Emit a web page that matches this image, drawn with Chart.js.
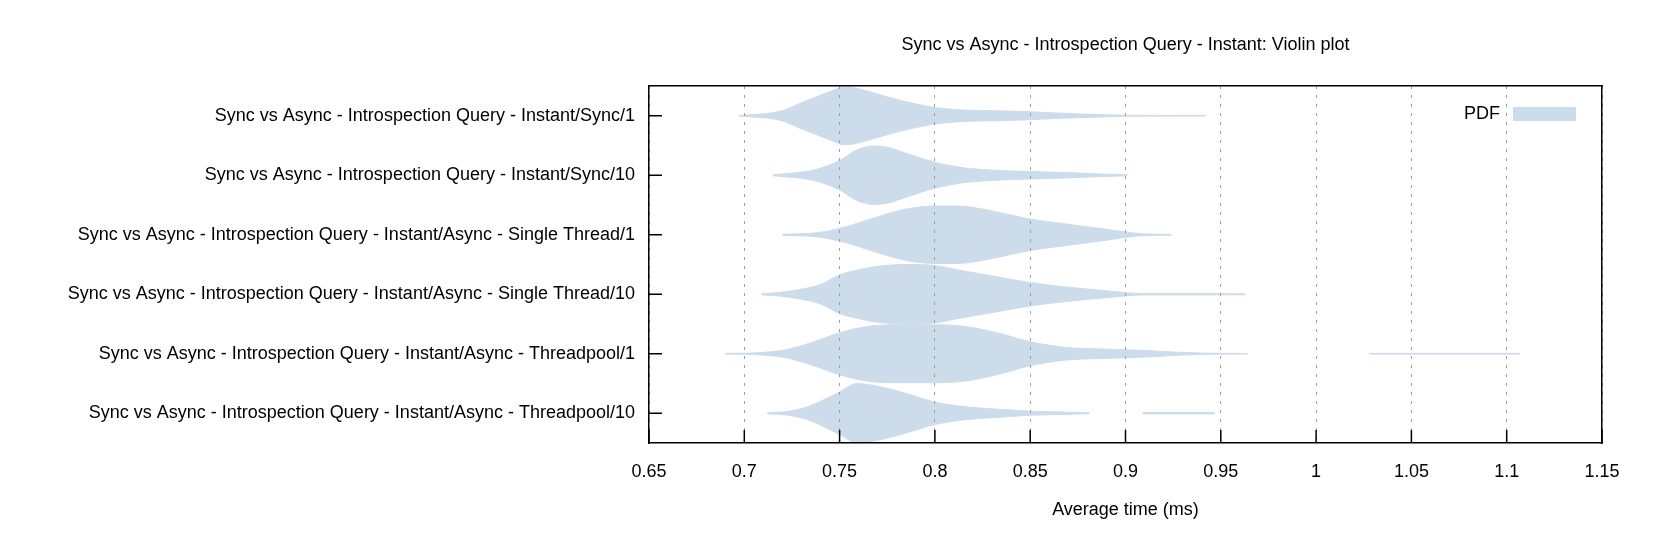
<!DOCTYPE html>
<html>
<head>
<meta charset="utf-8">
<title>Violin plot</title>
<script src="https://cdn.jsdelivr.net/npm/chart.js@4.4.0/dist/chart.umd.min.js"></script>
<style>
  html, body { margin: 0; padding: 0; background: #fff; }
</style>
</head>
<body>
<canvas id="violin" width="1654" height="542"></canvas>
<script>
const CATEGORIES = [
    "Sync vs Async - Introspection Query - Instant/Sync/1",
    "Sync vs Async - Introspection Query - Instant/Sync/10",
    "Sync vs Async - Introspection Query - Instant/Async - Single Thread/1",
    "Sync vs Async - Introspection Query - Instant/Async - Single Thread/10",
    "Sync vs Async - Introspection Query - Instant/Async - Threadpool/1",
    "Sync vs Async - Introspection Query - Instant/Async - Threadpool/10",
];
const X_TICKS = [0.65, 0.7, 0.75, 0.8, 0.85, 0.9, 0.95, 1, 1.05, 1.1, 1.15];

// time (ms) and relative density for each benchmark, null = no samples
const SYNC_1_TIME = [0.697, 0.708, 0.715, 0.721, 0.726, 0.729, 0.738, 0.747, 0.752, 0.757, 0.764, 0.773, 0.785, 0.800, 0.815, 0.832, 0.850, 0.860, 0.874, 0.890, 0.900, 0.942];
const SYNC_1_PDF = [0.3, 1.7, 3, 5.7, 9.7, 12.3, 19, 25.7, 29, 28.3, 25, 20, 14, 8.3, 5.7, 5, 4, 3, 2, 1, 0.5, 0.3];

const SYNC_10_TIME = [0.715, 0.728, 0.738, 0.750, 0.759, 0.768, 0.775, 0.785, 0.800, 0.813, 0.829, 0.850, 0.869, 0.887, 0.901];
const SYNC_10_PDF = [0.5, 2.7, 6, 14.7, 25.3, 29.3, 28, 22, 13, 8, 5.3, 3.7, 2.7, 1.3, 0.5];

const SINGLE_1_TIME = [0.720, 0.729, 0.738, 0.750, 0.759, 0.773, 0.785, 0.800, 0.812, 0.826, 0.840, 0.850, 0.869, 0.887, 0.900, 0.911, 0.924];
const SINGLE_1_PDF = [0.4, 1, 2, 6.3, 11.3, 19.7, 25.7, 28.7, 28.7, 25.3, 19.7, 15.7, 10.7, 6.3, 2.7, 0.7, 0.4];

const SINGLE_10_TIME = [0.709, 0.719, 0.729, 0.740, 0.750, 0.759, 0.770, 0.787, 0.800, 0.813, 0.831, 0.850, 0.869, 0.887, 0.900, 0.908, 0.957, 0.963];
const SINGLE_10_PDF = [0.5, 2, 4.7, 9.7, 19.3, 24, 28, 29.7, 28.7, 24, 18, 11.7, 7.3, 4, 1.7, 0.7, 0.6, 0.4];

const POOL_1_TIME = [0.690, 0.700, 0.707, 0.721, 0.735, 0.750, 0.766, 0.782, 0.800, 0.817, 0.834, 0.850, 0.869, 0.887, 0.900, 0.913, 0.925, 0.935, 0.942, 0.964, 0.995, 1.028, 1.107];
const POOL_1_PDF = [0.4, 0.5, 1, 3.7, 11, 21, 27.7, 29, 29, 27, 20.3, 12, 6.3, 4.8, 4, 3, 1.7, 1, 0.6, 0.3, null, 0.3, 0.3];

const POOL_10_TIME = [0.712, 0.722, 0.733, 0.743, 0.750, 0.759, 0.770, 0.785, 0.800, 0.817, 0.834, 0.850, 0.866, 0.881, 0.895, 0.909, 0.912, 0.944, 0.947];
const POOL_10_PDF = [0.5, 1.7, 6.3, 14.7, 21.3, 29.7, 27, 19.7, 11.3, 6.3, 4, 2, 1.3, 0.4, null, 0.4, 0.7, 0.7, 0.4];

const VIOLINS = [
    [SYNC_1_TIME, SYNC_1_PDF],
    [SYNC_10_TIME, SYNC_10_PDF],
    [SINGLE_1_TIME, SINGLE_1_PDF],
    [SINGLE_10_TIME, SINGLE_10_PDF],
    [POOL_1_TIME, POOL_1_PDF],
    [POOL_10_TIME, POOL_10_PDF],
];

const FILL = "rgb(205, 220, 234)";
const PDF_SCALE = 1 / 59.5; // density -> fraction of a category band

const datasets = [];
VIOLINS.forEach(([times, pdf], i) => {
    const side = (sign) => times.map((t, k) => ({
        x: t,
        y: pdf[k] === null ? null : i + sign * pdf[k] * PDF_SCALE,
    }));
    const common = {
        borderColor: FILL,
        backgroundColor: FILL,
        borderWidth: 1,
        pointRadius: 0,
        cubicInterpolationMode: "monotone",
        spanGaps: false,
    };
    datasets.push({ ...common, label: "PDF", data: side(-1), fill: "+1" });
    datasets.push({ ...common, label: "PDF", data: side(1), fill: false });
});

Chart.defaults.font.family = '"Liberation Sans", Arial, Helvetica, sans-serif';
Chart.defaults.font.size = 18;
Chart.defaults.color = "#000";

// gnuplot style: ticks pointing into the plot, legend inside top right
const frameExtras = {
    id: "frameExtras",
    afterDraw(chart) {
        const { ctx, chartArea: a, scales: { x, y } } = chart;
        ctx.save();
        ctx.strokeStyle = "#000";
        ctx.lineWidth = 1.5;
        ctx.beginPath();
        x.ticks.forEach((t) => {
            const px = x.getPixelForValue(t.value);
            ctx.moveTo(px, a.bottom);
            ctx.lineTo(px, a.bottom - 13);
        });
        y.ticks.forEach((t) => {
            const py = y.getPixelForValue(t.value);
            ctx.moveTo(a.left, py);
            ctx.lineTo(a.left + 13, py);
        });
        ctx.stroke();

        const boxRight = a.right - 26;
        const boxLeft = boxRight - 63;
        const midY = a.top + 28;
        ctx.fillStyle = FILL;
        ctx.fillRect(boxLeft, midY - 7, 63, 14);
        ctx.fillStyle = "#000";
        ctx.font = '18px "Liberation Sans", Arial, sans-serif';
        ctx.textAlign = "right";
        ctx.textBaseline = "middle";
        ctx.fillText("PDF", boxLeft - 13, midY);
        ctx.restore();
    },
};

const frameBorder = { display: true, color: "#000", width: 1.5, z: 1 };

new Chart(document.getElementById("violin"), {
    type: "line",
    data: { datasets },
    options: {
        responsive: false,
        animation: false,
        events: [],
        layout: { padding: { top: 0, right: 52, bottom: 0, left: 0 } },
        plugins: {
            legend: { display: false },
            tooltip: { enabled: false },
        },
        scales: {
            x: {
                type: "linear",
                position: "bottom",
                min: 0.65,
                max: 1.15,
                afterBuildTicks: (s) => { s.ticks = X_TICKS.map((v) => ({ value: v })); },
                afterFit: (s) => { s.height = 99; },
                ticks: {
                    autoSkip: false,
                    maxRotation: 0,
                    padding: 18,
                    callback: (v) => String(v),
                },
                grid: { color: "#9e9e9e", lineWidth: 1, drawTicks: false, z: 1 },
                border: { ...frameBorder, dash: [3, 6] },
                title: {
                    display: true,
                    text: "Average time (ms)",
                    padding: { top: 0, bottom: 21 },
                },
            },
            xTop: {
                type: "linear",
                position: "top",
                min: 0.65,
                max: 1.15,
                ticks: { display: false },
                grid: { display: false, drawTicks: false },
                border: frameBorder,
                title: {
                    display: true,
                    text: "Sync vs Async - Introspection Query - Instant: Violin plot",
                    padding: { top: 34.6, bottom: 29.8 },
                },
            },
            y: {
                type: "linear",
                reverse: true,
                min: -0.5,
                max: 5.5,
                afterBuildTicks: (s) => { s.ticks = CATEGORIES.map((c, i) => ({ value: i })); },
                afterFit: (s) => { s.width = 649; },
                ticks: {
                    autoSkip: false,
                    padding: 14,
                    callback: (v) => CATEGORIES[v],
                },
                grid: { display: false, drawTicks: false },
                border: frameBorder,
            },
            yRight: {
                type: "linear",
                position: "right",
                min: -0.5,
                max: 5.5,
                ticks: { display: false },
                grid: { display: false, drawTicks: false },
                border: frameBorder,
            },
        },
    },
    plugins: [frameExtras],
});
</script>
</body>
</html>
